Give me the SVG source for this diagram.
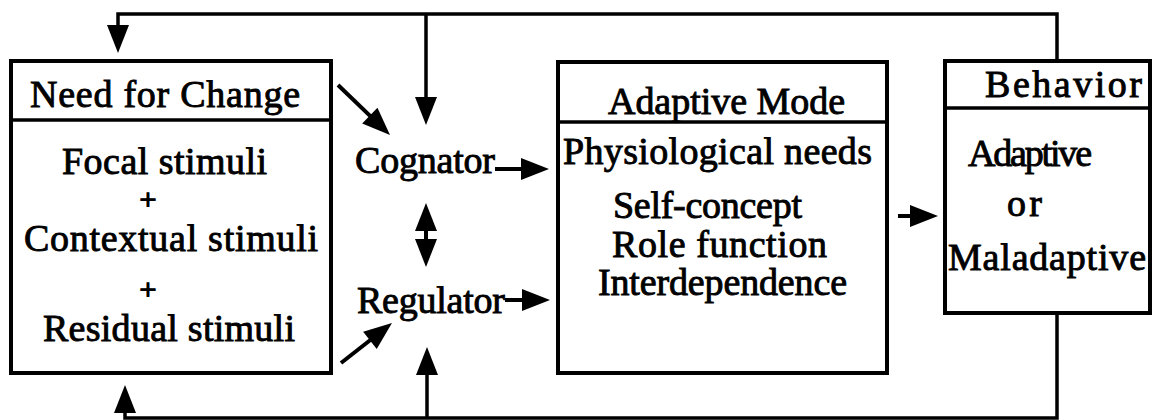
<svg xmlns="http://www.w3.org/2000/svg" width="1153" height="420" viewBox="0 0 1153 420">
<style>
.box{fill:none;stroke:#000;stroke-width:4}
.div{stroke:#000;stroke-width:3.5}
.ln{fill:none;stroke:#000;stroke-width:4;marker-end:url(#ah)}
.pl{fill:none;stroke:#000;stroke-width:3.5}
text{font-family:"Liberation Serif","Times New Roman",serif;font-size:38px;fill:#000;stroke:#000;stroke-width:0.9}
.plus{font-size:30px;stroke-width:1.4}
</style>
<defs>
<marker id="ah" markerUnits="userSpaceOnUse" markerWidth="30" markerHeight="24" viewBox="0 0 30 24" refX="19" refY="12" orient="auto-start-reverse">
<path d="M1,1 L29,12 L1,23 Z" fill="#000"/>
</marker>
</defs>
<rect width="1153" height="420" fill="#fff"/>
<g id="connectors">
<path class="pl" d="M1057,61 V14 H118 V43" style="marker-end:url(#ah)"/>
<path class="pl" d="M426,14 V115" style="marker-end:url(#ah)"/>
<path class="pl" d="M1057,313 V418 H125 V395" style="marker-end:url(#ah)"/>
<path class="pl" d="M427,418 V357" style="marker-end:url(#ah)"/>
<path class="ln" d="M426,213 V257" style="marker-start:url(#ah)"/>
<path class="ln" d="M495,169 H539"/>
<path class="ln" d="M505,300 H540"/>
<path class="ln" d="M898,216 H928"/>
<path class="ln" d="M338,85 L382.8,128.1"/>
<path class="ln" d="M341,363 L384.1,329.2"/>
</g>
<g id="need-for-change">
<rect class="box" x="11" y="61" width="320" height="312"/>
<line class="div" x1="11" y1="120" x2="331" y2="120"/>
<text x="30" y="107" textLength="270">Need for Change</text>
<text x="62" y="174" textLength="205">Focal stimuli</text>
<text class="plus" x="148" y="209" text-anchor="middle">+</text>
<text x="24" y="251" textLength="294">Contextual stimuli</text>
<text class="plus" x="148" y="299" text-anchor="middle">+</text>
<text x="43" y="341" textLength="252">Residual stimuli</text>
</g>
<g id="cognator">
<text x="355" y="173" textLength="140">Cognator</text>
</g>
<g id="regulator">
<text x="357" y="313" textLength="148">Regulator</text>
</g>
<g id="adaptive-mode">
<rect class="box" x="558" y="62" width="329" height="311"/>
<line class="div" x1="558" y1="122" x2="887" y2="122"/>
<text x="608" y="114" textLength="237">Adaptive Mode</text>
<text x="563" y="164" textLength="309">Physiological needs</text>
<text x="613" y="218" textLength="189">Self-concept</text>
<text x="612" y="257" textLength="215">Role function</text>
<text x="598" y="295" textLength="249">Interdependence</text>
</g>
<g id="behavior">
<rect class="box" x="945" y="61" width="205" height="252"/>
<line class="div" x1="945" y1="108" x2="1150" y2="108"/>
<text x="985" y="97" textLength="157">Behavior</text>
<text x="968" y="166" textLength="124">Adaptive</text>
<text x="1007" y="216" textLength="35">or</text>
<text x="948" y="270" textLength="198">Maladaptive</text>
</g>
</svg>
